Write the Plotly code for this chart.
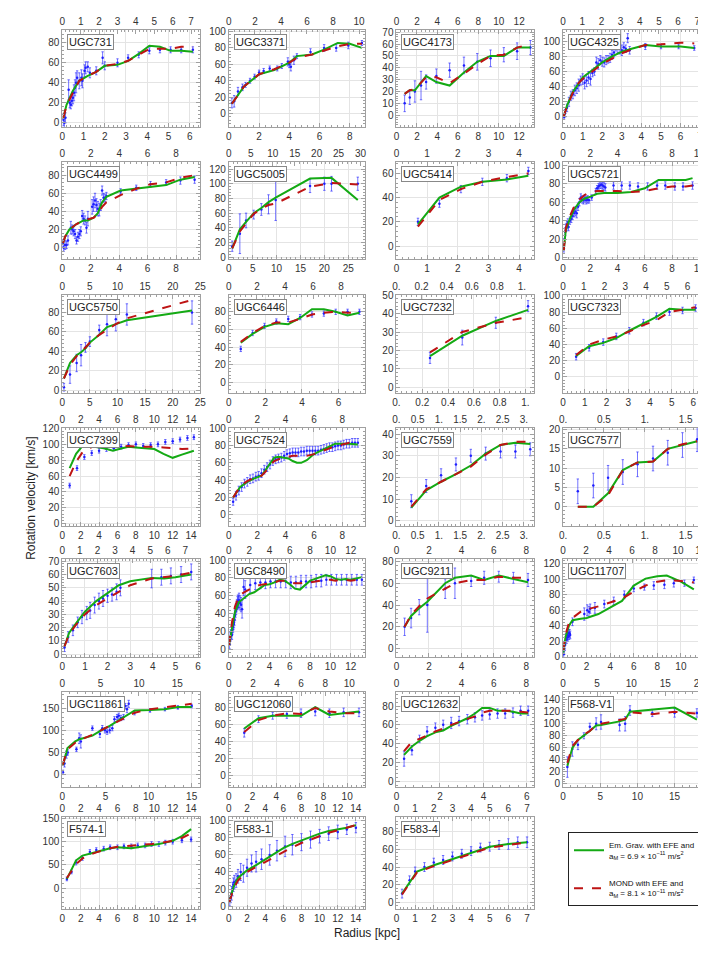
import plotly.graph_objects as go

# ---------------- data: radius [kpc], velocity [km/s], error [km/s] ----------------
# model radii (M), Em. Grav. curve (G), MOND curve (D)

UGC731_R = [0.05, 0.1, 0.15, 0.3, 0.35, 0.4, 0.45, 0.5, 0.55, 0.6, 0.65, 0.7, 0.8, 0.9, 0.95, 1.05, 1.1, 1.2, 1.3, 1.6, 1.9, 2.0, 2.6, 3.1, 3.6, 4.1, 4.6, 5.1, 5.6, 6.15]
UGC731_V = [3, 0, 5, 33, 20, 18, 22, 25, 30, 35, 40, 45, 42, 45, 42, 52, 55, 56, 50, 52, 65, 57, 60, 65, 68, 72, 73, 73, 73, 73]
UGC731_E = [6, 5, 5, 10, 5, 4, 5, 6, 8, 8, 10, 7, 8, 8, 7, 6, 6, 5, 5, 4, 6, 4, 4, 3, 3, 3, 3, 3, 3, 3]
UGC731_M = [0.05, 0.2, 0.5, 0.8, 1.2, 1.6, 2.0, 2.6, 3.1, 3.6, 4.1, 4.6, 5.1, 5.6, 6.15]
UGC731_G = [5, 18, 32, 42, 47, 51, 57, 58, 62, 69, 77, 76, 72, 72, 71]
UGC731_D = [5, 17, 30, 42, 47, 51, 57, 59, 62, 68, 74, 74, 74, 76, 76]

UGC3371_R = [0.2, 0.35, 0.6, 0.9, 1.1, 1.4, 1.7, 2.0, 2.3, 2.7, 3.2, 3.5, 3.9, 4.0, 4.1, 4.3, 4.5, 5.4, 6.3, 7.1, 7.9, 8.8]
UGC3371_V = [13, 15, 27, 32, 35, 40, 45, 50, 52, 55, 55, 58, 63, 60, 57, 65, 70, 75, 80, 80, 83, 86]
UGC3371_E = [6, 7, 5, 4, 3, 3, 3, 3, 3, 3, 3, 3, 5, 4, 5, 5, 3, 4, 4, 4, 4, 3]
UGC3371_M = [0.2, 1, 2, 3, 4, 4.5, 5.5, 6.3, 7.2, 8, 8.8]
UGC3371_G = [12, 33, 48, 53, 62, 70, 72, 78, 86, 85, 80]
UGC3371_D = [12, 33, 48, 54, 62, 68, 72, 77, 82, 85, 85]

UGC4173_R = [0.8, 1.3, 1.8, 2.4, 2.9, 3.9, 5.2, 6.6, 7.9, 9.2, 10.5, 11.8, 13.1]
UGC4173_V = [10, 15, 20, 25, 28, 33, 38, 42, 45, 48, 51, 54, 57]
UGC4173_E = [7, 6, 9, 12, 6, 6, 6, 7, 7, 7, 6, 7, 6]
UGC4173_M = [0.8, 1.3, 1.8, 2.9, 3.9, 5.2, 6.6, 7.9, 9.2, 10.5, 11.8, 13.1]
UGC4173_G = [18, 21, 21, 33, 28, 25, 36, 45, 50, 50, 57, 57]
UGC4173_D = [18, 21, 22, 32, 32, 27, 35, 43, 50, 51, 57, 60]

UGC4325_R = [0.05, 0.1, 0.2, 0.3, 0.4, 0.5, 0.6, 0.7, 0.8, 0.9, 1.0, 1.1, 1.2, 1.3, 1.4, 1.5, 1.6, 1.7, 1.8, 1.9, 2.0, 2.1, 2.2, 2.3, 2.4, 2.5, 2.6, 2.7, 2.8, 2.9, 3.0, 3.1, 3.2, 3.3, 3.4, 4.2, 5.0, 5.9, 6.7]
UGC4325_V = [0, 5, 12, 20, 28, 30, 35, 38, 42, 48, 50, 45, 48, 52, 50, 58, 60, 72, 70, 75, 73, 72, 75, 76, 78, 82, 85, 95, 93, 90, 88, 92, 90, 104, 88, 93, 93, 93, 91]
UGC4325_E = [3, 5, 5, 6, 6, 6, 7, 7, 8, 6, 7, 8, 8, 8, 8, 5, 5, 7, 7, 6, 6, 6, 6, 5, 6, 6, 6, 8, 8, 7, 7, 6, 5, 6, 5, 4, 3, 3, 3]
UGC4325_M = [0.02, 0.2, 0.5, 0.8, 1.0, 1.5, 2.0, 2.5, 3.0, 3.5, 4.2, 5.0, 6.0, 6.7]
UGC4325_G = [0, 15, 33, 45, 52, 62, 72, 80, 86, 90, 95, 93, 93, 91]
UGC4325_D = [0, 14, 32, 45, 50, 60, 70, 77, 84, 89, 95, 96, 98, 97]

UGC4499_R = [0.05, 0.1, 0.2, 0.3, 0.4, 0.6, 0.7, 0.8, 0.9, 1.0, 1.1, 1.2, 1.3, 1.4, 1.5, 1.6, 1.7, 1.8, 2.1, 2.2, 2.3, 2.4, 2.5, 2.6, 2.7, 2.8, 2.9, 3.0, 3.1, 4.1, 5.2, 6.2, 7.3, 8.3, 9.3]
UGC4499_V = [5, 0, 3, 3, 8, 22, 20, 18, 15, 8, 12, 15, 18, 35, 32, 30, 22, 32, 45, 48, 52, 47, 43, 42, 47, 63, 55, 55, 57, 62, 66, 70, 72, 74, 75]
UGC4499_E = [4, 4, 5, 4, 5, 7, 5, 5, 5, 4, 5, 5, 5, 6, 6, 5, 6, 8, 8, 8, 8, 7, 8, 7, 6, 5, 5, 4, 4, 3, 3, 3, 3, 4, 4]
UGC4499_M = [0.05, 0.2, 0.5, 1.0, 1.5, 1.8, 2.2, 2.5, 2.8, 3.1, 4.1, 5.2, 6.2, 7.3, 8.3, 9.3]
UGC4499_G = [5, 12, 20, 26, 30, 30, 33, 38, 50, 56, 63, 65, 67, 69, 75, 78]
UGC4499_D = [5, 12, 20, 26, 30, 31, 33, 37, 45, 50, 58, 65, 70, 72, 77, 80]

UGC5005_R = [0.7, 2.3, 3.6, 5.2, 6.8, 8.3, 9.8, 17, 20, 21.5, 27]
UGC5005_V = [15, 32, 50, 58, 65, 72, 78, 97, 100, 100, 100]
UGC5005_E = [7, 27, 10, 6, 8, 13, 28, 9, 9, 10, 9]
UGC5005_M = [0.7, 2.3, 3.6, 5.2, 6.8, 8.3, 9.8, 17, 21.5, 27]
UGC5005_G = [12, 38, 48, 60, 67, 75, 81, 107, 108, 78]
UGC5005_D = [12, 35, 46, 59, 66, 71, 73, 96, 101, 99]

UGC5414_R = [0.7, 1.4, 2.1, 2.8, 3.6, 4.3]
UGC5414_V = [20, 35, 47, 53, 56, 62]
UGC5414_E = [3, 3, 3, 3, 3, 3]
UGC5414_M = [0.7, 1.4, 2.1, 2.8, 3.6, 4.3]
UGC5414_G = [18, 40, 49, 53, 55, 58]
UGC5414_D = [16, 38, 47, 53, 57, 60]

UGC5721_R = [0.05, 0.1, 0.15, 0.2, 0.25, 0.3, 0.35, 0.4, 0.5, 0.6, 0.7, 0.8, 0.9, 1.0, 1.1, 1.2, 1.3, 1.4, 1.5, 1.6, 1.7, 1.8, 1.9, 2.1, 2.4, 2.5, 2.6, 2.7, 2.8, 2.9, 3.0, 3.1, 3.7, 4.3, 4.9, 5.5, 6.2, 6.9, 7.5, 8.2, 8.8, 9.5]
UGC5721_V = [10, 20, 28, 32, 33, 35, 38, 33, 40, 42, 45, 48, 50, 48, 55, 60, 65, 63, 62, 64, 62, 63, 62, 65, 72, 75, 77, 78, 79, 78, 77, 76, 78, 78, 78, 77, 77, 78, 78, 77, 77, 78]
UGC5721_E = [4, 4, 4, 4, 4, 4, 4, 4, 4, 4, 4, 4, 5, 5, 4, 4, 4, 4, 4, 4, 4, 4, 3, 3, 3, 3, 3, 3, 4, 4, 4, 4, 4, 4, 4, 4, 4, 4, 4, 4, 4, 4]
UGC5721_M = [0.05, 0.2, 0.5, 0.8, 1.2, 1.6, 2.0, 2.5, 3, 4, 5, 6, 7, 8, 9, 9.5]
UGC5721_G = [8, 30, 42, 52, 60, 64, 66, 69, 70, 70, 71, 75, 84, 84, 84, 86]
UGC5721_D = [8, 32, 45, 55, 63, 68, 71, 72, 72, 72, 71, 72, 75, 77, 77, 78]

UGC5750_R = [0.3, 1.4, 2.6, 3.4, 4.2, 5.0, 6.7, 8.1, 9.7, 11.7, 23.5]
UGC5750_V = [3, 16, 28, 36, 44, 50, 62, 68, 73, 78, 80]
UGC5750_E = [4, 9, 9, 11, 5, 5, 5, 12, 12, 11, 12]
UGC5750_M = [0.3, 1.4, 2.6, 3.4, 4.2, 5.0, 6.7, 8.1, 9.7, 11.7, 23.5]
UGC5750_G = [12, 28, 36, 39, 43, 49, 57, 65, 68, 72, 82]
UGC5750_D = [12, 26, 35, 39, 44, 49, 57, 62, 68, 74, 93]

UGC6446_R = [0.65, 1.3, 1.95, 2.6, 3.25, 3.9, 4.55, 5.2, 5.85, 6.5, 7.15]
UGC6446_V = [38, 56, 64, 69, 72, 74, 77, 78, 80, 80, 80]
UGC6446_E = [3, 3, 3, 3, 3, 3, 3, 3, 3, 3, 3]
UGC6446_M = [0.65, 1.3, 1.95, 2.6, 3.25, 3.9, 4.55, 5.2, 5.85, 6.5, 7.15]
UGC6446_G = [45, 55, 63, 67, 66, 73, 83, 83, 80, 76, 79]
UGC6446_D = [46, 56, 64, 68, 68, 72, 77, 79, 80, 79, 79]

UGC7232_R = [0.26, 0.51, 0.77, 1.02]
UGC7232_V = [16, 27, 35, 44]
UGC7232_E = [3, 4, 3, 3]
UGC7232_M = [0.26, 0.51, 0.77, 1.02]
UGC7232_G = [17, 28, 36, 42]
UGC7232_D = [19, 30, 35, 38]

UGC7323_R = [0.6, 1.2, 1.85, 2.45, 3.05, 3.7, 4.3, 4.9, 5.5, 6.1]
UGC7323_V = [25, 36, 43, 50, 57, 67, 75, 80, 82, 85]
UGC7323_E = [4, 4, 4, 4, 4, 4, 4, 4, 4, 4]
UGC7323_M = [0.6, 1.2, 1.85, 2.45, 3.05, 3.7, 4.3, 4.9, 5.5, 6.1]
UGC7323_G = [26, 38, 42, 48, 57, 66, 74, 84, 83, 83]
UGC7323_D = [27, 40, 46, 50, 56, 64, 70, 80, 83, 86]

UGC7399_R = [0.8, 1.6, 2.4, 3.2, 4.0, 4.8, 5.6, 6.4, 7.2, 8.0, 8.8, 9.6, 10.4, 11.2, 12.0, 12.8, 13.6, 14.3]
UGC7399_V = [48, 70, 84, 89, 92, 94, 95, 97, 99, 100, 98, 99, 100, 103, 104, 106, 108, 109]
UGC7399_E = [3, 3, 3, 3, 3, 3, 3, 3, 3, 3, 3, 3, 3, 3, 3, 3, 3, 3]
UGC7399_M = [0.8, 1.5, 2.2, 2.6, 3.1, 3.5, 4.5, 5.5, 6.5, 7.2, 8, 9, 10, 11, 12, 13, 14.3]
UGC7399_G = [70, 88, 98, None, 97, 97, 95, 92, 95, 97, 96, 95, 94, 88, 83, 87, 92]
UGC7399_D = [60, 78, 90, 94, 96, 98, 97, 97, 97, 98, 97, 97, 97, 96, 95, 94, 95]

UGC7524_R = [0.3, 0.5, 0.7, 0.9, 1.1, 1.3, 1.5, 1.7, 1.9, 2.1, 2.3, 2.5, 2.7, 2.9, 3.1, 3.3, 3.5, 3.7, 3.9, 4.1, 4.3, 4.5, 4.7, 4.9, 5.1, 5.3, 5.5, 5.7, 5.9, 6.1, 6.3, 6.5, 6.7, 6.9, 7.1, 7.3, 7.5, 7.7, 7.9, 8.1, 8.3, 8.5, 8.7, 8.9, 9.1]
UGC7524_V = [15, 22, 28, 32, 36, 38, 41, 42, 44, 45, 48, 52, 55, 58, 62, 64, 65, 66, 68, 70, 71, 72, 72, 72, 73, 73, 74, 74, 74, 74, 74, 75, 76, 77, 78, 78, 79, 80, 80, 81, 82, 82, 83, 83, 83]
UGC7524_E = [4, 5, 5, 5, 5, 5, 5, 5, 5, 5, 5, 5, 5, 5, 5, 5, 5, 5, 5, 5, 5, 5, 5, 5, 5, 5, 5, 5, 5, 5, 5, 5, 5, 5, 5, 5, 5, 5, 5, 5, 5, 5, 5, 5, 5]
UGC7524_M = [0.3, 0.8, 1.3, 1.8, 2.3, 2.6, 2.9, 3.2, 3.5, 3.8, 4.2, 4.5, 4.8, 5.1, 5.5, 6, 6.5, 7, 7.5, 8, 8.5, 9.1]
UGC7524_G = [20, 32, 38, 42, 45, 52, 60, 66, 67, 66, 65, 62, 60, 60, 63, 70, 74, 78, 82, 82, 82, 81]
UGC7524_D = [20, 33, 39, 43, 45, 50, 57, 62, 64, 66, 67, 68, 68, 68, 68, 70, 73, 76, 79, 81, 83, 84]

UGC7559_R = [0.35, 0.7, 1.05, 1.4, 1.75, 2.1, 2.45, 2.8, 3.15]
UGC7559_V = [9, 16, 21, 26, 30, 31, 32, 32, 33]
UGC7559_E = [3, 3, 3, 3, 3, 3, 3, 3, 3]
UGC7559_M = [0.35, 0.7, 1.05, 1.4, 1.75, 2.1, 2.45, 2.8, 3.15]
UGC7559_G = [6, 14, 18, 21.5, 25.5, 31, 35, 36, 35.5]
UGC7559_D = [6.5, 14.5, 18, 21.5, 25, 30.5, 35, 36.5, 36.5]

UGC7577_R = [0.18, 0.37, 0.55, 0.73, 0.91, 1.1, 1.28, 1.46, 1.64]
UGC7577_V = [4, 5.5, 7.5, 9, 11, 12.5, 14, 16, 17.5]
UGC7577_E = [3.2, 3.2, 3.2, 3.2, 3.2, 3.2, 3.2, 3.2, 3.2]
UGC7577_M = [0.18, 0.37, 0.55, 0.73, 0.91, 1.1, 1.28, 1.46, 1.64]
UGC7577_G = [0, 0, 3.5, 9.5, 11.5, 11.7, 15, 16, 17]
UGC7577_D = [0, 0, 3, 9.5, 11.5, 11.7, 15, 16.2, 17]

UGC7603_R = [0.1, 0.26, 0.47, 0.68, 0.87, 1.08, 1.23, 1.43, 1.62, 1.8, 2.0, 2.2, 2.4, 2.57, 3.95, 4.38, 4.8, 5.25, 5.7]
UGC7603_V = [5, 13, 18, 24, 28, 31, 33, 37, 40, 42, 44, 45, 47, 50, 57, 58, 59, 60, 62]
UGC7603_E = [3, 4, 4, 4, 5, 5, 6, 6, 6, 6, 5, 5, 6, 6, 7, 6, 6, 6, 6]
UGC7603_M = [0.1, 0.3, 0.6, 1, 1.5, 2, 2.5, 3, 3.95, 4.5, 5, 5.7]
UGC7603_G = [6, 16, 23, 32, 40, 46, 52, 55, 57.5, 57, 58, 60]
UGC7603_D = [6, 15, 22, 30, 37, 42, 47, 52, 57, 58, 59, 61.5]

UGC8490_R = [0.05, 0.1, 0.15, 0.2, 0.25, 0.3, 0.35, 0.4, 0.45, 0.5, 0.55, 0.6, 0.65, 0.7, 0.75, 0.8, 0.85, 0.9, 0.95, 1.0, 1.1, 1.2, 1.3, 1.45, 1.6, 2.1, 2.6, 3.1, 3.6, 4.1, 4.6, 5.1, 5.6, 6.1, 6.6, 7.1, 7.6, 8.1, 8.6, 9.1, 9.6, 10.1, 10.6, 11.1, 11.6, 12.1, 12.6, 13.1]
UGC8490_V = [5, 10, 14, 17, 20, 16, 22, 25, 28, 30, 33, 38, 42, 45, 48, 50, 52, 54, 53, 55, 52, 50, 45, 70, 67, 72, 74, 75, 75, 76, 76, 76, 76, 75, 75, 76, 76, 76, 77, 77, 78, 78, 78, 78, 78, 78, 78, 78]
UGC8490_E = [4, 5, 5, 5, 5, 5, 5, 6, 6, 6, 6, 6, 6, 6, 6, 6, 7, 7, 7, 8, 8, 8, 10, 10, 10, 8, 7, 7, 7, 7, 7, 7, 7, 7, 7, 7, 7, 7, 7, 7, 6, 6, 6, 6, 6, 6, 6, 6]
UGC8490_M = [0.02, 0.3, 0.6, 1, 1.5, 2, 2.5, 3, 3.5, 4, 4.5, 5, 5.5, 6, 6.5, 7, 7.5, 8, 8.5, 9, 9.5, 10, 10.5, 11, 11.5, 12, 12.5, 13.1]
UGC8490_G = [5, 25, 42, 53, 57, 62, 64, 68, 72, 73, 75, 78, 77, 73, 68, 67, 72, 77, 79, 81, 83, 82, 79, 78, 79, 78, 79, 81]
UGC8490_D = [5, 30, 48, 60, 64, 67, 70, 72, 73, 74, 75, 77, 77, 75, 74, 74, 75, 75, 76, 77, 78, 78, 77, 78, 78, 77, 78, 79]

UGC9211_R = [0.5, 0.9, 1.4, 1.9, 3.0, 3.6, 4.6, 5.4, 6.3, 7.2, 8.1]
UGC9211_V = [20, 28, 38, 40, 55, 60, 62, 65, 66, 65, 63]
UGC9211_E = [8, 9, 7, 25, 9, 14, 5, 6, 5, 5, 6]
UGC9211_M = [0.5, 0.9, 1.4, 1.9, 3.0, 3.6, 4.6, 5.4, 6.3, 7.2, 8.1]
UGC9211_G = [20, 30, 37, 43, 60, 65, 67, 63, 67, 64, 61]
UGC9211_D = [20, 31, 39, 46, 55, 60, 63, 63, 66, 65, 65]

UGC11707_R = [0.05, 0.1, 0.15, 0.2, 0.25, 0.3, 0.35, 0.4, 0.45, 0.5, 0.55, 0.6, 0.8, 1.8, 2.05, 2.2, 2.3, 2.7, 3.5, 4.3, 5.2, 6.0, 6.9, 7.7, 8.6, 9.4, 10.3, 11.1]
UGC11707_V = [3, 8, 15, 20, 25, 22, 28, 25, 30, 27, 30, 28, 45, 55, 60, 58, 62, 63, 68, 72, 80, 88, 90, 92, 93, 95, 95, 99]
UGC11707_E = [5, 5, 5, 5, 5, 5, 5, 5, 5, 5, 5, 5, 5, 8, 7, 7, 6, 7, 5, 5, 5, 4, 4, 5, 5, 5, 4, 4]
UGC11707_M = [0.02, 0.2, 0.5, 0.8, 1.5, 2, 3, 4, 5, 6, 7, 8, 8.8, 10, 11.1]
UGC11707_G = [5, 25, 40, 47, 49, 50, 55, 63, 72, 92, 101, 104, 105, 97, 87]
UGC11707_D = [8, 28, 44, 50, 58, 61, 65, 70, 75, 84, 92, 97, 99, 98, 96]

UGC11861_R = [0.08, 0.26, 0.49, 0.64, 1.64, 1.96, 2.15, 3.49, 4.36, 4.64, 4.95, 5.2, 5.5, 5.8, 6.05, 6.36, 6.55, 6.8, 7.1, 7.3, 7.5, 7.7, 8.38, 10.17, 11.9, 13.4, 15.0]
UGC11861_V = [5, 25, 45, 50, 57, 82, 75, 105, 92, 105, 100, 97, 100, 105, 125, 130, 133, 128, 130, 155, 148, 160, 140, 145, 148, 152, 155]
UGC11861_E = [5, 8, 8, 6, 5, 12, 15, 5, 8, 6, 6, 6, 6, 6, 6, 6, 6, 6, 6, 6, 8, 8, 5, 4, 4, 4, 4]
UGC11861_M = [0.05, 0.6, 1.5, 2, 3.5, 4.5, 5.5, 6.5, 7.5, 8.4, 10.2, 11.9, 13.4, 15]
UGC11861_G = [20, 60, 75, 80, 88, 100, 110, 122, 135, 145, 146, 148, 153, 153]
UGC11861_D = [22, 57, 72, 78, 90, 100, 110, 120, 130, 140, 148, 152, 157, 160]

UGC12060_R = [1.3, 2.5, 3.7, 4.9, 6.1, 7.3, 8.5, 9.7, 11]
UGC12060_V = [50, 66, 70, 72, 73, 75, 73, 74, 74]
UGC12060_E = [5, 4, 4, 5, 5, 5, 5, 5, 5]
UGC12060_M = [1.3, 2.5, 3.7, 4.9, 6.1, 7.3, 8.5, 9.7, 11]
UGC12060_G = [55, 67, 70, 70, 70, 80, 71, 73, 75]
UGC12060_D = [51, 65, 70, 73, 72, 79, 75, 73, 73]

UGC12632_R = [0.35, 0.71, 1.06, 1.41, 1.79, 2.15, 2.52, 2.88, 3.26, 3.61, 3.94, 4.29, 4.65, 5.0, 5.36, 5.71, 6.06]
UGC12632_V = [24, 33, 45, 53, 57, 60, 62, 64, 66, 68, 70, 71, 72, 72, 73, 75, 75]
UGC12632_E = [8, 5, 4, 5, 5, 5, 6, 5, 5, 5, 5, 5, 5, 5, 5, 5, 5]
UGC12632_M = [0.35, 0.71, 1.06, 1.41, 1.79, 2.15, 2.52, 2.88, 3.26, 3.61, 3.94, 4.29, 4.65, 5.0, 5.36, 5.71, 6.06]
UGC12632_G = [28, 37, 43, 48, 52, 54, 59, 63, 67, 72, 78, 78, 75, 75, 74, 72, 72]
UGC12632_D = [32, 42, 45, 49, 53, 56, 60, 63, 66, 69, 73, 75, 75, 75, 75, 74, 73]

F568V1_R = [0.58, 1.25, 2.0, 2.8, 3.6, 4.45, 5.1, 7.6, 8.35, 9.0, 12.0, 15.0, 18.0]
F568V1_V = [28, 58, 65, 80, 95, 100, 103, 98, 100, 122, 118, 118, 118]
F568V1_E = [17, 12, 8, 5, 6, 10, 12, 10, 12, 8, 6, 7, 7]
F568V1_M = [0.58, 1.25, 2.0, 2.8, 3.6, 4.45, 5.1, 7.6, 8.35, 9.0, 12.0, 15.0, 18.0]
F568V1_G = [30, 60, 73, 80, 88, 97, 98, 104, 107, 120, 124, 127, 107]
F568V1_D = [35, 63, 73, 82, 88, 98, 100, 106, 108, 119, 116, 120, 117]

F5741_R = [0.5, 1, 1.5, 2.2, 3, 3.7, 4.5, 5.2, 6, 6.7, 7.5, 8.2, 9, 9.7, 10.5, 11.2, 12, 13, 14]
F5741_V = [20, 35, 55, 65, 78, 82, 85, 88, 88, 90, 90, 92, 92, 95, 95, 98, 100, 103, 105]
F5741_E = [4, 4, 5, 5, 5, 5, 5, 5, 5, 5, 5, 5, 5, 5, 5, 5, 5, 5, 5]
F5741_M = [0.5, 1, 1.5, 2.2, 3, 3.7, 4.5, 5.2, 6, 6.7, 7.5, 8.2, 9, 9.7, 10.5, 11.2, 12, 13, 14]
F5741_G = [20, 40, 60, 70, 75, 78, 82, 86, 88, 87, 86, 88, 90, 93, 95, 98, 102, 112, 127]
F5741_D = [22, 38, 52, 64, 72, 77, 82, 86, 89, 90, 91, 92, 93, 95, 97, 99, 102, 108, 118]

F5831_R = [0.1, 0.2, 0.3, 0.4, 0.5, 0.6, 0.8, 1.0, 1.3, 1.6, 2.0, 2.5, 3.0, 3.6, 4.5, 5.3, 6.2, 7, 8, 9, 10, 11, 12, 13, 14]
F5831_V = [5, 10, 15, 20, 25, 28, 30, 35, 40, 38, 45, 50, 52, 55, 60, 65, 70, 72, 75, 78, 82, 85, 87, 90, 92]
F5831_E = [5, 6, 8, 8, 8, 8, 8, 8, 10, 10, 10, 10, 12, 12, 12, 12, 12, 12, 10, 10, 8, 8, 8, 6, 6]
F5831_M = [0.05, 0.5, 1, 2, 3, 4, 5, 6, 7, 8, 9, 10, 11, 12, 13, 14]
F5831_G = [5, 22, 33, 42, 48, 55, 62, 68, 73, 77, 81, 85, 88, 90, 92, 95]
F5831_D = [5, 20, 30, 40, 46, 52, 58, 64, 69, 74, 78, 82, 86, 89, 92, 95]

F5834_R = [0.3, 0.7, 1.0, 1.5, 2, 2.5, 3, 3.5, 4, 4.5, 5, 5.5, 6, 6.5, 7]
F5834_V = [10, 25, 35, 40, 45, 48, 52, 55, 58, 62, 63, 65, 66, 68, 68]
F5834_E = [5, 5, 5, 5, 5, 5, 5, 5, 5, 5, 5, 5, 6, 6, 6]
F5834_M = [0.3, 0.7, 1.1, 2, 3, 4, 5, 6, 7]
F5834_G = [10, 22, 35, 42, 49, 56, 63, 66, 68]
F5834_D = [9, 21, 34, 41, 48, 55, 62, 65, 68]

# name, data, bottom x range, top x range, y range, bottom dtick, top dtick, y dtick
PANELS = [
    ("UGC731", UGC731_R, UGC731_V, UGC731_E, UGC731_M, UGC731_G, UGC731_D, (0, 6.5), (0, 7.5), (-4, 93), 1, 1, 20),
    ("UGC3371", UGC3371_R, UGC3371_V, UGC3371_E, UGC3371_M, UGC3371_G, UGC3371_D, (0, 9.0), (0, 10.45), (-16, 102), 2, 2, 20),
    ("UGC4173", UGC4173_R, UGC4173_V, UGC4173_E, UGC4173_M, UGC4173_G, UGC4173_D, (0, 13.5), (0, 13.5), (-9.8, 72), 2, 2, 10),
    ("UGC4325", UGC4325_R, UGC4325_V, UGC4325_E, UGC4325_M, UGC4325_G, UGC4325_D, (0, 7.1), (0, 7.25), (-13, 115), 1, 1, 20),
    ("UGC4499", UGC4499_R, UGC4499_V, UGC4499_E, UGC4499_M, UGC4499_G, UGC4499_D, (0, 9.7), (0, 9.7), (-13, 94), 2, 2, 20),
    ("UGC5005", UGC5005_R, UGC5005_V, UGC5005_E, UGC5005_M, UGC5005_G, UGC5005_D, (0, 28.5), (0, 31), (-3, 129), 5, 5, 20),
    ("UGC5414", UGC5414_R, UGC5414_V, UGC5414_E, UGC5414_M, UGC5414_G, UGC5414_D, (0, 4.5), (0, 4.5), (-11, 69), 1, 1, 20),
    ("UGC5721", UGC5721_R, UGC5721_V, UGC5721_E, UGC5721_M, UGC5721_G, UGC5721_D, (0, 10.2), (0, 10.2), (-2, 103), 2, 2, 20),
    ("UGC5750", UGC5750_R, UGC5750_V, UGC5750_E, UGC5750_M, UGC5750_G, UGC5750_D, (0, 25), (0, 25), (-3, 98), 5, 5, 20),
    ("UGC6446", UGC6446_R, UGC6446_V, UGC6446_E, UGC6446_M, UGC6446_G, UGC6446_D, (0, 7.45), (0, 9.7), (-12, 99), 2, 2, 20),
    ("UGC7232", UGC7232_R, UGC7232_V, UGC7232_E, UGC7232_M, UGC7232_G, UGC7232_D, (0, 1.07), (0, 1.1), (-3, 50), 0.2, 0.2, 10),
    ("UGC7323", UGC7323_R, UGC7323_V, UGC7323_E, UGC7323_M, UGC7323_G, UGC7323_D, (0, 6.4), (0, 6.7), (-19.8, 101), 1, 1, 20),
    ("UGC7399", UGC7399_R, UGC7399_V, UGC7399_E, UGC7399_M, UGC7399_G, UGC7399_D, (0, 15), (0, 15), (-2.5, 121), 2, 2, 20),
    ("UGC7524", UGC7524_R, UGC7524_V, UGC7524_E, UGC7524_M, UGC7524_G, UGC7524_D, (0, 9.6), (0, 9.6), (-12.5, 100.5), 2, 2, 20),
    ("UGC7559", UGC7559_R, UGC7559_V, UGC7559_E, UGC7559_M, UGC7559_G, UGC7559_D, (0, 3.25), (0, 3.25), (-2.3, 43), 0.5, 0.5, 10),
    ("UGC7577", UGC7577_R, UGC7577_V, UGC7577_E, UGC7577_M, UGC7577_G, UGC7577_D, (0, 1.7), (0, 1.7), (-4.9, 20.5), 0.5, 0.5, 5),
    ("UGC7603", UGC7603_R, UGC7603_V, UGC7603_E, UGC7603_M, UGC7603_G, UGC7603_D, (0, 6.1), (0, 7.85), (-2.3, 71.5), 1, 1, 10),
    ("UGC8490", UGC8490_R, UGC8490_V, UGC8490_E, UGC8490_M, UGC8490_G, UGC8490_D, (0, 13.4), (0, 13.4), (-9, 101), 2, 2, 20),
    ("UGC9211", UGC9211_R, UGC9211_V, UGC9211_E, UGC9211_M, UGC9211_G, UGC9211_D, (0, 8.5), (0, 8.5), (-8, 82), 2, 2, 20),
    ("UGC11707", UGC11707_R, UGC11707_V, UGC11707_E, UGC11707_M, UGC11707_G, UGC11707_D, (0, 11.8), (0, 12.1), (-1, 126), 2, 2, 20),
    ("UGC11861", UGC11861_R, UGC11861_V, UGC11861_E, UGC11861_M, UGC11861_G, UGC11861_D, (0, 16), (0, 18), (-28, 187), 5, 5, 50),
    ("UGC12060", UGC12060_R, UGC12060_V, UGC12060_E, UGC12060_M, UGC12060_G, UGC12060_D, (0, 11.5), (0, 11.3), (-13.5, 98), 2, 2, 20),
    ("UGC12632", UGC12632_R, UGC12632_V, UGC12632_E, UGC12632_M, UGC12632_G, UGC12632_D, (0, 6.35), (0, 8.5), (-6, 95), 2, 2, 20),
    ("F568-V1", F568V1_R, F568V1_V, F568V1_E, F568V1_M, F568V1_G, F568V1_D, (0, 18.7), (0, 20.4), (-5, 153), 5, 5, 20),
    ("F574-1", F5741_R, F5741_V, F5741_E, F5741_M, F5741_G, F5741_D, (0, 15), (0, 15), (-44, 154), 2, 2, 50),
    ("F583-1", F5831_R, F5831_V, F5831_E, F5831_M, F5831_G, F5831_D, (0, 15), (0, 15), (-3, 105), 2, 2, 20),
    ("F583-4", F5834_R, F5834_V, F5834_E, F5834_M, F5834_G, F5834_D, (0, 7.4), (0, 7.4), (-7, 97), 1, 1, 20),
]

W, H = 706, 967
COLS = [(51, 191), (220, 358), (390, 530), (559, 700)]
ROWS = [(17, 115), (151, 249), (285, 384), (419, 518), (552, 651), (686, 782), (812, 905)]

GREEN = "rgb(20,170,20)"
RED = "rgb(190,20,20)"
BLUE = "rgba(40,40,255,0.65)"
FRAME = "#a0a0a0"
GRID = "#e4e4e4"
FONT = "Liberation Sans, Arial, sans-serif"


def fmt(v, d):
    if d >= 1:
        return str(int(round(v)))
    if abs(v - round(v)) < 1e-9:
        return "%d." % round(v)
    return ("%g" % v)


def ticks(lo, hi, d):
    vals = []
    k = 0
    while k * d <= hi + 1e-9:
        v = round(k * d, 6)
        if v >= lo - 1e-9:
            vals.append(v)
        k += 1
    return vals


def minor(lo, hi, d):
    step = d / 5.0
    vals = []
    k = int(lo / step) - 1
    while k * step <= hi:
        v = round(k * step, 6)
        if v >= lo:
            vals.append(v)
        k += 1
    return vals


fig = go.Figure()
layout = {}
annotations = []

for i, (name, r, v, e, m, g, dmond, xb, xt, yr, dxb, dxt, dy) in enumerate(PANELS):
    col = i % 4
    row = i // 4
    x0, x1 = COLS[col]
    y0, y1 = ROWS[row]
    xa_b = "x%d" % (2 * i + 1)
    xa_t = "x%d" % (2 * i + 2)
    ya = "y%d" % (i + 1)
    xdom = [x0 / W, x1 / W]
    ydom = [1 - y1 / H, 1 - y0 / H]

    # empty trace so the top (secondary) axis gets drawn
    fig.add_trace(go.Scatter(x=[None], y=[None], mode="lines", xaxis=xa_t, yaxis=ya,
                             showlegend=False, hoverinfo="skip"))
    fig.add_trace(go.Scatter(
        x=r, y=v, mode="markers", xaxis=xa_b, yaxis=ya, showlegend=False,
        marker=dict(color="rgb(30,30,255)", size=2.5),
        error_y=dict(type="data", array=e, color=BLUE, thickness=1, width=1.2),
        hoverinfo="skip"))
    fig.add_trace(go.Scatter(
        x=m, y=g, mode="lines", xaxis=xa_b, yaxis=ya, connectgaps=False,
        line=dict(color=GREEN, width=2), showlegend=(i == 0), legendgroup="g",
        name="Em. Grav. with EFE and<br>a<sub>M</sub> = 6.9 × 10<sup>−11</sup> m/s<sup>2</sup>"))
    fig.add_trace(go.Scatter(
        x=m, y=dmond, mode="lines", xaxis=xa_b, yaxis=ya,
        line=dict(color=RED, width=2, dash="dash"), showlegend=(i == 0), legendgroup="d",
        name="MOND with EFE and<br>a<sub>M</sub> = 8.1 × 10<sup>−11</sup> m/s<sup>2</sup>"))

    tb = ticks(xb[0], xb[1], dxb)
    tt = ticks(xt[0], xt[1], dxt)
    ty = ticks(yr[0], yr[1], dy)
    common = dict(showline=True, linecolor=FRAME, linewidth=1, zeroline=False,
                  ticks="inside", ticklen=4, tickcolor=FRAME,
                  tickfont=dict(family=FONT, size=10, color="#333"))
    layout["xaxis%d" % (2 * i + 1)] = dict(
        domain=xdom, anchor=ya, range=list(xb), tickmode="array",
        tickvals=tb, ticktext=[fmt(t, dxb) for t in tb],
        showgrid=True, gridcolor=GRID, gridwidth=1,
        minor=dict(ticks="inside", ticklen=2, tickcolor=FRAME, tickmode="array",
                   tickvals=minor(xb[0], xb[1], dxb)),
        **common)
    layout["xaxis%d" % (2 * i + 2)] = dict(
        overlaying=xa_b, side="top", anchor=ya, range=list(xt), tickmode="array",
        tickvals=tt, ticktext=[fmt(t, dxt) for t in tt], showgrid=False,
        minor=dict(ticks="inside", ticklen=2, tickcolor=FRAME, tickmode="array",
                   tickvals=minor(xt[0], xt[1], dxt)),
        **common)
    layout["yaxis%d" % (i + 1)] = dict(
        domain=ydom, anchor=xa_b, range=list(yr), tickmode="array",
        tickvals=ty, ticktext=[fmt(t, dy) for t in ty], mirror="ticks",
        showgrid=True, gridcolor=GRID, gridwidth=1,
        minor=dict(ticks="inside", ticklen=2, tickcolor=FRAME, tickmode="array",
                   tickvals=minor(yr[0], yr[1], dy)),
        **common)

    annotations.append(dict(
        text=name, xref="paper", yref="paper", x=(x0 + 5) / W, y=1 - (y0 + 4) / H,
        xanchor="left", yanchor="top", showarrow=False,
        font=dict(family=FONT, size=11, color="#222"),
        bgcolor="white", bordercolor="#888", borderwidth=1, borderpad=1))

annotations.append(dict(
    text="Rotation velocity [km/s]", xref="paper", yref="paper", x=10 / W, y=1 - 490 / H,
    textangle=-90, showarrow=False, font=dict(family=FONT, size=12, color="#222")))
annotations.append(dict(
    text="Radius [kpc]", xref="paper", yref="paper", x=360 / W, y=1 - 939 / H,
    showarrow=False, font=dict(family=FONT, size=12, color="#222")))

fig.update_layout(
    width=W, height=H, margin=dict(l=0, r=0, t=0, b=0),
    paper_bgcolor="white", plot_bgcolor="white",
    annotations=annotations,
    legend=dict(x=564 / W, y=1 - 828 / H, xanchor="left", yanchor="top",
                bordercolor="#222", borderwidth=1, bgcolor="white",
                font=dict(family=FONT, size=8, color="#111"),
                itemwidth=30, tracegroupgap=14),
    **layout)

fig.write_html("out.html")
